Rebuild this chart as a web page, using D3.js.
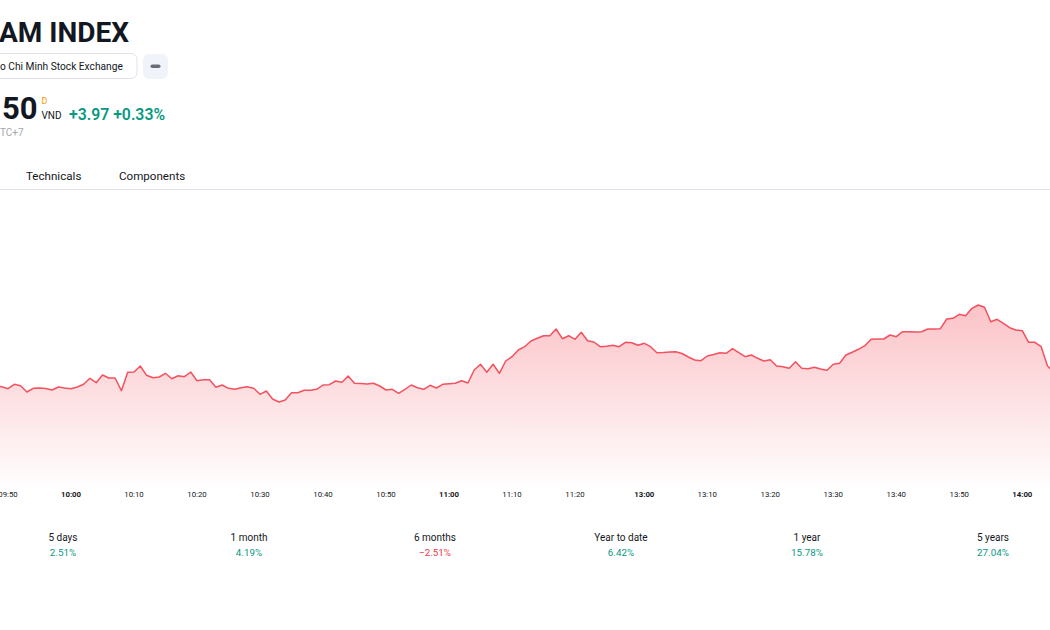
<!DOCTYPE html>
<html>
<head>
<meta charset="utf-8">
<script src="https://cdn.jsdelivr.net/npm/d3@7"></script>
<style>
  body { margin: 0; background: #fff; }
  svg { display: block; font-family: Roboto, 'Open Sans', sans-serif; }
</style>
</head>
<body>
<script>
// VN-Index intraday, one value per minute
const morningStart = '09:48'
const morningValues = [
  1205.9, 1205.83, 1205.63, 1206.07, 1205.93, 1205.3, 1205.67, 1205.7, 1205.65, 1205.5, 1205.8, 1205.7,
  1205.63, 1205.8, 1206.07, 1206.67, 1206.23, 1207.0, 1206.7, 1206.7, 1205.43, 1207.27,
  1207.3, 1207.9, 1206.97, 1206.73, 1206.8, 1207.17, 1206.63, 1206.93, 1206.83, 1207.3,
  1206.43, 1206.53, 1206.53, 1205.77, 1206.0, 1205.67, 1205.57, 1205.73, 1205.83, 1205.67,
  1205.07, 1205.4, 1204.6, 1204.3, 1204.5, 1205.23, 1205.23, 1205.47, 1205.47, 1205.57,
  1206.0, 1206.03, 1206.4, 1206.27, 1206.9, 1206.17, 1206.15, 1206.1, 1206.17, 1205.9,
  1205.5, 1205.57, 1205.17, 1205.57, 1206.0, 1205.73, 1205.57, 1205.97, 1205.7, 1206.07,
  1206.13, 1206.17, 1206.43, 1206.2, 1207.5, 1208.07, 1207.27, 1208.07, 1207.17, 1208.4,
  1208.83, 1209.5, 1209.83, 1210.4, 1210.67, 1210.93, 1210.93, 1211.6, 1210.63, 1210.93,
  1210.57, 1211.27, 1210.43, 1210.3, 1209.83, 1209.87, 1209.97, 1209.83, 1210.27, 1210.23, 1209.97
]
const afternoonStart = '13:00'
const afternoonValues = [
  1210.17, 1209.83, 1209.23, 1209.25, 1209.3, 1209.33, 1209.15, 1208.8, 1208.5, 1208.43,
  1208.9, 1209.05, 1209.23, 1209.17, 1209.63, 1209.23, 1208.83, 1209.0, 1208.67, 1208.4,
  1208.53, 1207.9, 1207.83, 1207.67, 1208.33, 1207.67, 1207.63, 1207.77, 1207.6, 1207.47,
  1208.07, 1208.17, 1209.0, 1209.27, 1209.57, 1209.93, 1210.57, 1210.6, 1210.6, 1211.0,
  1210.83, 1211.33, 1211.33, 1211.3, 1211.33, 1211.6, 1211.6, 1211.63, 1212.6, 1212.67,
  1213.07, 1212.93, 1213.67, 1214.0, 1213.77, 1212.33, 1212.57, 1212.17, 1211.73, 1211.5,
  1211.43, 1210.27, 1210.27, 1209.83, 1207.9, 1207.3
]

const tickLabels = ['09:50', '10:00', '10:10', '10:20', '10:30', '10:40', '10:50', '11:00', '11:10',
  '11:20', '13:00', '13:10', '13:20', '13:30', '13:40', '13:50', '14:00']

const perfLabels = ['5 days', '1 month', '6 months', 'Year to date', '1 year', '5 years']
const perfValues = [2.51, 4.19, -2.51, 6.42, 15.78, 27.04]

const width = 1050
const height = 630

const parseTime = d3.timeParse('%H:%M')
const formatTime = d3.timeFormat('%H:%M')

function session(start, values) {
  const t0 = parseTime(start)
  return values.map((v, i) => ({ time: formatTime(d3.timeMinute.offset(t0, i)), value: v }))
}
const datapoints = session(morningStart, morningValues).concat(session(afternoonStart, afternoonValues))
const times = datapoints.map(d => d.time)

const svg = d3
  .select('body')
  .append('svg')
  .attr('width', width)
  .attr('height', height)

// ---- header ----
const ink = '#131722'
svg.append('text').text('AM INDEX')
  .attr('x', -1).attr('y', 42)
  .attr('font-size', 28).attr('font-weight', 'bold').attr('fill', ink)

svg.append('rect')
  .attr('x', -10).attr('y', 53.5).attr('width', 147).attr('height', 25).attr('rx', 6)
  .attr('fill', '#fff').attr('stroke', '#e0e3eb')
svg.append('text').text('o Chi Minh Stock Exchange')
  .attr('x', 0).attr('y', 69.5)
  .attr('font-size', 10.2).attr('fill', ink)

svg.append('rect')
  .attr('x', 143).attr('y', 54).attr('width', 25).attr('height', 25).attr('rx', 6)
  .attr('fill', '#f0f3fa')
svg.append('rect')
  .attr('x', 150.5).attr('y', 64.5).attr('width', 10).attr('height', 3.5).attr('rx', 1.75)
  .attr('fill', '#6a6d78')

svg.append('text').text('50')
  .attr('x', 2).attr('y', 118.5)
  .attr('font-size', 31).attr('font-weight', 'bold').attr('fill', ink)
svg.append('text').text('D')
  .attr('x', 41.5).attr('y', 104)
  .attr('font-size', 9).attr('fill', '#ff9800')
svg.append('text').text('VND')
  .attr('x', 41.5).attr('y', 119)
  .attr('font-size', 10).attr('fill', ink)
svg.append('text').text('+3.97 +0.33%')
  .attr('x', 69).attr('y', 119.5)
  .attr('font-size', 15.8).attr('font-weight', 600).attr('fill', '#089981')
svg.append('text').text('TC+7')
  .attr('x', 0).attr('y', 136)
  .attr('font-size', 10).attr('fill', '#a3a6af')

svg.append('text').text('Technicals')
  .attr('x', 26).attr('y', 180)
  .attr('font-size', 11.6).attr('fill', ink)
svg.append('text').text('Components')
  .attr('x', 119).attr('y', 180)
  .attr('font-size', 11.6).attr('fill', ink)
svg.append('line')
  .attr('x1', 0).attr('x2', width).attr('y1', 189.5).attr('y2', 189.5)
  .attr('stroke', '#e0e3eb')

// ---- chart ----
const plotTop = 190
const plotBottom = 485
const step = 6.3
const xStart = -4.6

const xPositionScale = d3.scaleLinear()
  .domain([0, times.length - 1])
  .range([xStart, xStart + step * (times.length - 1)])
const yPositionScale = d3.scaleLinear()
  .domain([1196, 1225.5])
  .range([plotBottom, plotTop])

const defs = svg.append('defs')
defs.append('clipPath').attr('id', 'plot-clip')
  .append('rect')
  .attr('x', 0).attr('y', plotTop).attr('width', width).attr('height', plotBottom - plotTop)

const grad = defs.append('linearGradient')
  .attr('id', 'fill-grad')
  .attr('gradientUnits', 'userSpaceOnUse')
  .attr('x1', 0).attr('x2', 0)
  .attr('y1', yPositionScale(1214)).attr('y2', plotBottom)
grad.append('stop').attr('offset', 0).attr('stop-color', '#f23645').attr('stop-opacity', 0.3)
grad.append('stop').attr('offset', 1).attr('stop-color', '#f23645').attr('stop-opacity', 0.01)

const area = d3.area()
  .x((d, i) => xPositionScale(i))
  .y0(plotBottom)
  .y1(d => yPositionScale(d.value))
const line = d3.line()
  .x((d, i) => xPositionScale(i))
  .y(d => yPositionScale(d.value))

const plot = svg.append('g').attr('clip-path', 'url(#plot-clip)')
plot.append('path')
  .datum(datapoints)
  .attr('d', area)
  .attr('fill', 'url(#fill-grad)')
plot.append('path')
  .datum(datapoints)
  .attr('d', line)
  .attr('fill', 'none')
  .attr('stroke', '#f23645')
  .attr('stroke-opacity', 0.85)
  .attr('stroke-width', 1.5)
  .attr('stroke-linejoin', 'round')

// time axis labels
svg.append('g')
  .attr('class', 'x-axis')
  .selectAll('text')
  .data(tickLabels)
  .enter()
  .append('text')
  .text(d => d)
  .attr('x', d => xPositionScale(times.indexOf(d)))
  .attr('y', 497)
  .attr('text-anchor', 'middle')
  .attr('font-size', 7.8)
  .attr('font-weight', d => (d.endsWith(':00') ? 'bold' : 'normal'))
  .attr('fill', ink)

// ---- performance row ----
const perfScale = d3.scalePoint()
  .domain(perfLabels)
  .range([63, 993])

const perf = svg.append('g')
  .selectAll('g')
  .data(perfLabels)
  .enter()
  .append('g')
  .attr('transform', d => 'translate(' + perfScale(d) + ',0)')
perf.append('text')
  .text(d => d)
  .attr('y', 541)
  .attr('text-anchor', 'middle')
  .attr('font-size', 10)
  .attr('fill', ink)
perf.append('text')
  .text((d, i) => (perfValues[i] < 0 ? '\u2212' : '') + Math.abs(perfValues[i]).toFixed(2) + '%')
  .attr('y', 556)
  .attr('text-anchor', 'middle')
  .attr('font-size', 9.8)
  .attr('fill', (d, i) => (perfValues[i] < 0 ? '#f23645' : '#089981'))
</script>
</body>
</html>
